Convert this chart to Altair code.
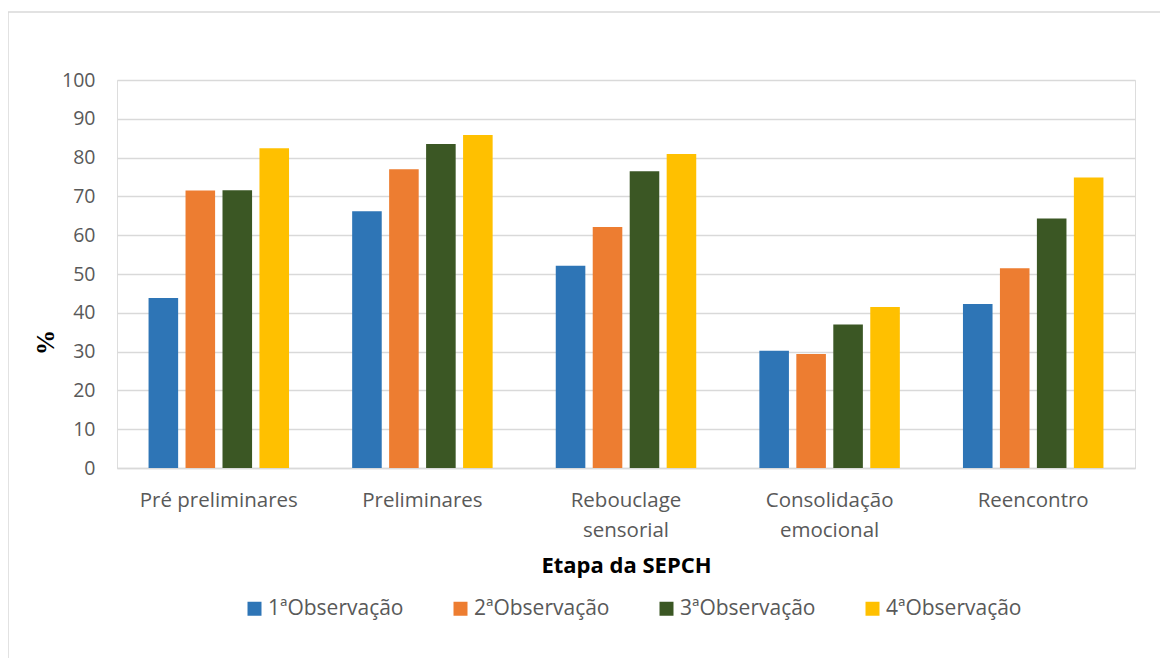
import altair as alt
import pandas as pd

stages = ["Pré preliminares", "Preliminares", "Rebouclage sensorial",
          "Consolidação emocional", "Reencontro"]
stage_labels = [["Pré preliminares"], ["Preliminares"], ["Rebouclage", "sensorial"],
                ["Consolidação", "emocional"], ["Reencontro"]]
series = ["1ªObservação", "2ªObservação", "3ªObservação", "4ªObservação"]
colors = ["#2E75B6", "#ED7D31", "#3B5724", "#FFC000"]

obs1 = [43.8, 66.2, 52.1, 30.2, 42.3]
obs2 = [71.5, 77.0, 62.1, 29.4, 51.5]
obs3 = [71.6, 83.5, 76.5, 37.0, 64.3]
obs4 = [82.4, 85.8, 80.9, 41.5, 74.9]
y_ticks = [0, 10, 20, 30, 40, 50, 60, 70, 80, 90, 100]

rows = []
for s, vals in zip(series, [obs1, obs2, obs3, obs4]):
    for st, v in zip(stages, vals):
        rows.append({"Etapa": st, "Serie": s, "Valor": v})
df = pd.DataFrame(rows)

label_expr = "{" + ", ".join(
    "'%s': [%s]" % (st, ", ".join("'%s'" % p for p in parts))
    for st, parts in zip(stages, stage_labels)) + "}[datum.label]"

FONT = "Open Sans"
GREY = "#595959"

bars = alt.Chart(df).mark_bar().encode(
    x=alt.X("Etapa:N", sort=stages,
            scale=alt.Scale(paddingInner=0.31, paddingOuter=0.155),
            axis=alt.Axis(title="Etapa da SEPCH", labelAngle=0, labelExpr=label_expr,
                          labelFont=FONT, labelFontSize=20.5, labelColor=GREY,
                          labelPadding=32, labelLineHeight=30, labelBaseline="middle",
                          ticks=False, domain=True, domainColor="#d9d9d9",
                          domainWidth=1.5,
                          titleFont=FONT, titleFontSize=22, titleFontWeight="bold",
                          titleColor="#000000", titleBaseline="middle",
                          titleY=97)),
    xOffset=alt.XOffset("Serie:N", sort=series,
                        scale=alt.Scale(paddingInner=0.2, paddingOuter=0)),
    y=alt.Y("Valor:Q",
            scale=alt.Scale(domain=[0, 100], nice=False),
            axis=alt.Axis(title="%", values=y_ticks, ticks=False, domain=False,
                          labelFont=FONT, labelFontSize=19.5, labelColor=GREY,
                          labelPadding=22,
                          gridColor="#d9d9d9", gridWidth=1.5,
                          titleFont="Liberation Serif", titleFontSize=25,
                          titleFontWeight="bold", titleColor="#000000",
                          titleX=-72, titleY=262, titleAngle=-90,
                          titleBaseline="middle")),
    color=alt.Color("Serie:N", sort=series,
                    scale=alt.Scale(domain=series, range=colors),
                    legend=alt.Legend(title=None, orient="none", direction="horizontal",
                                      columns=4, legendX=127, legendY=518,
                                      symbolType="square", symbolSize=196,
                                      symbolStrokeWidth=0,
                                      labelFont=FONT, labelFontSize=21,
                                      labelColor=GREY, labelOffset=3,
                                      columnPadding=46)),
)

frame = pd.DataFrame({"a": [0]})
top_edge = alt.Chart(frame).mark_rule(color="#d9d9d9", strokeWidth=1.5, clip=False).encode(
    x=alt.value(-109), x2=alt.value(1200), y=alt.value(-68),
)
left_edge = alt.Chart(frame).mark_rule(color="#d9d9d9", strokeWidth=1.5, clip=False).encode(
    x=alt.value(-109), y=alt.value(-68), y2=alt.value(700),
)

chart = alt.layer(top_edge, left_edge, bars).properties(
    width=1018, height=388,
    autosize=alt.AutoSizeParams(type="none"),
    padding={"left": 109, "top": 72, "right": 25, "bottom": 190},
).configure_view(stroke=None).configure(background="white")

chart.save("out.html", embed_options={"renderer": "svg", "actions": False})
